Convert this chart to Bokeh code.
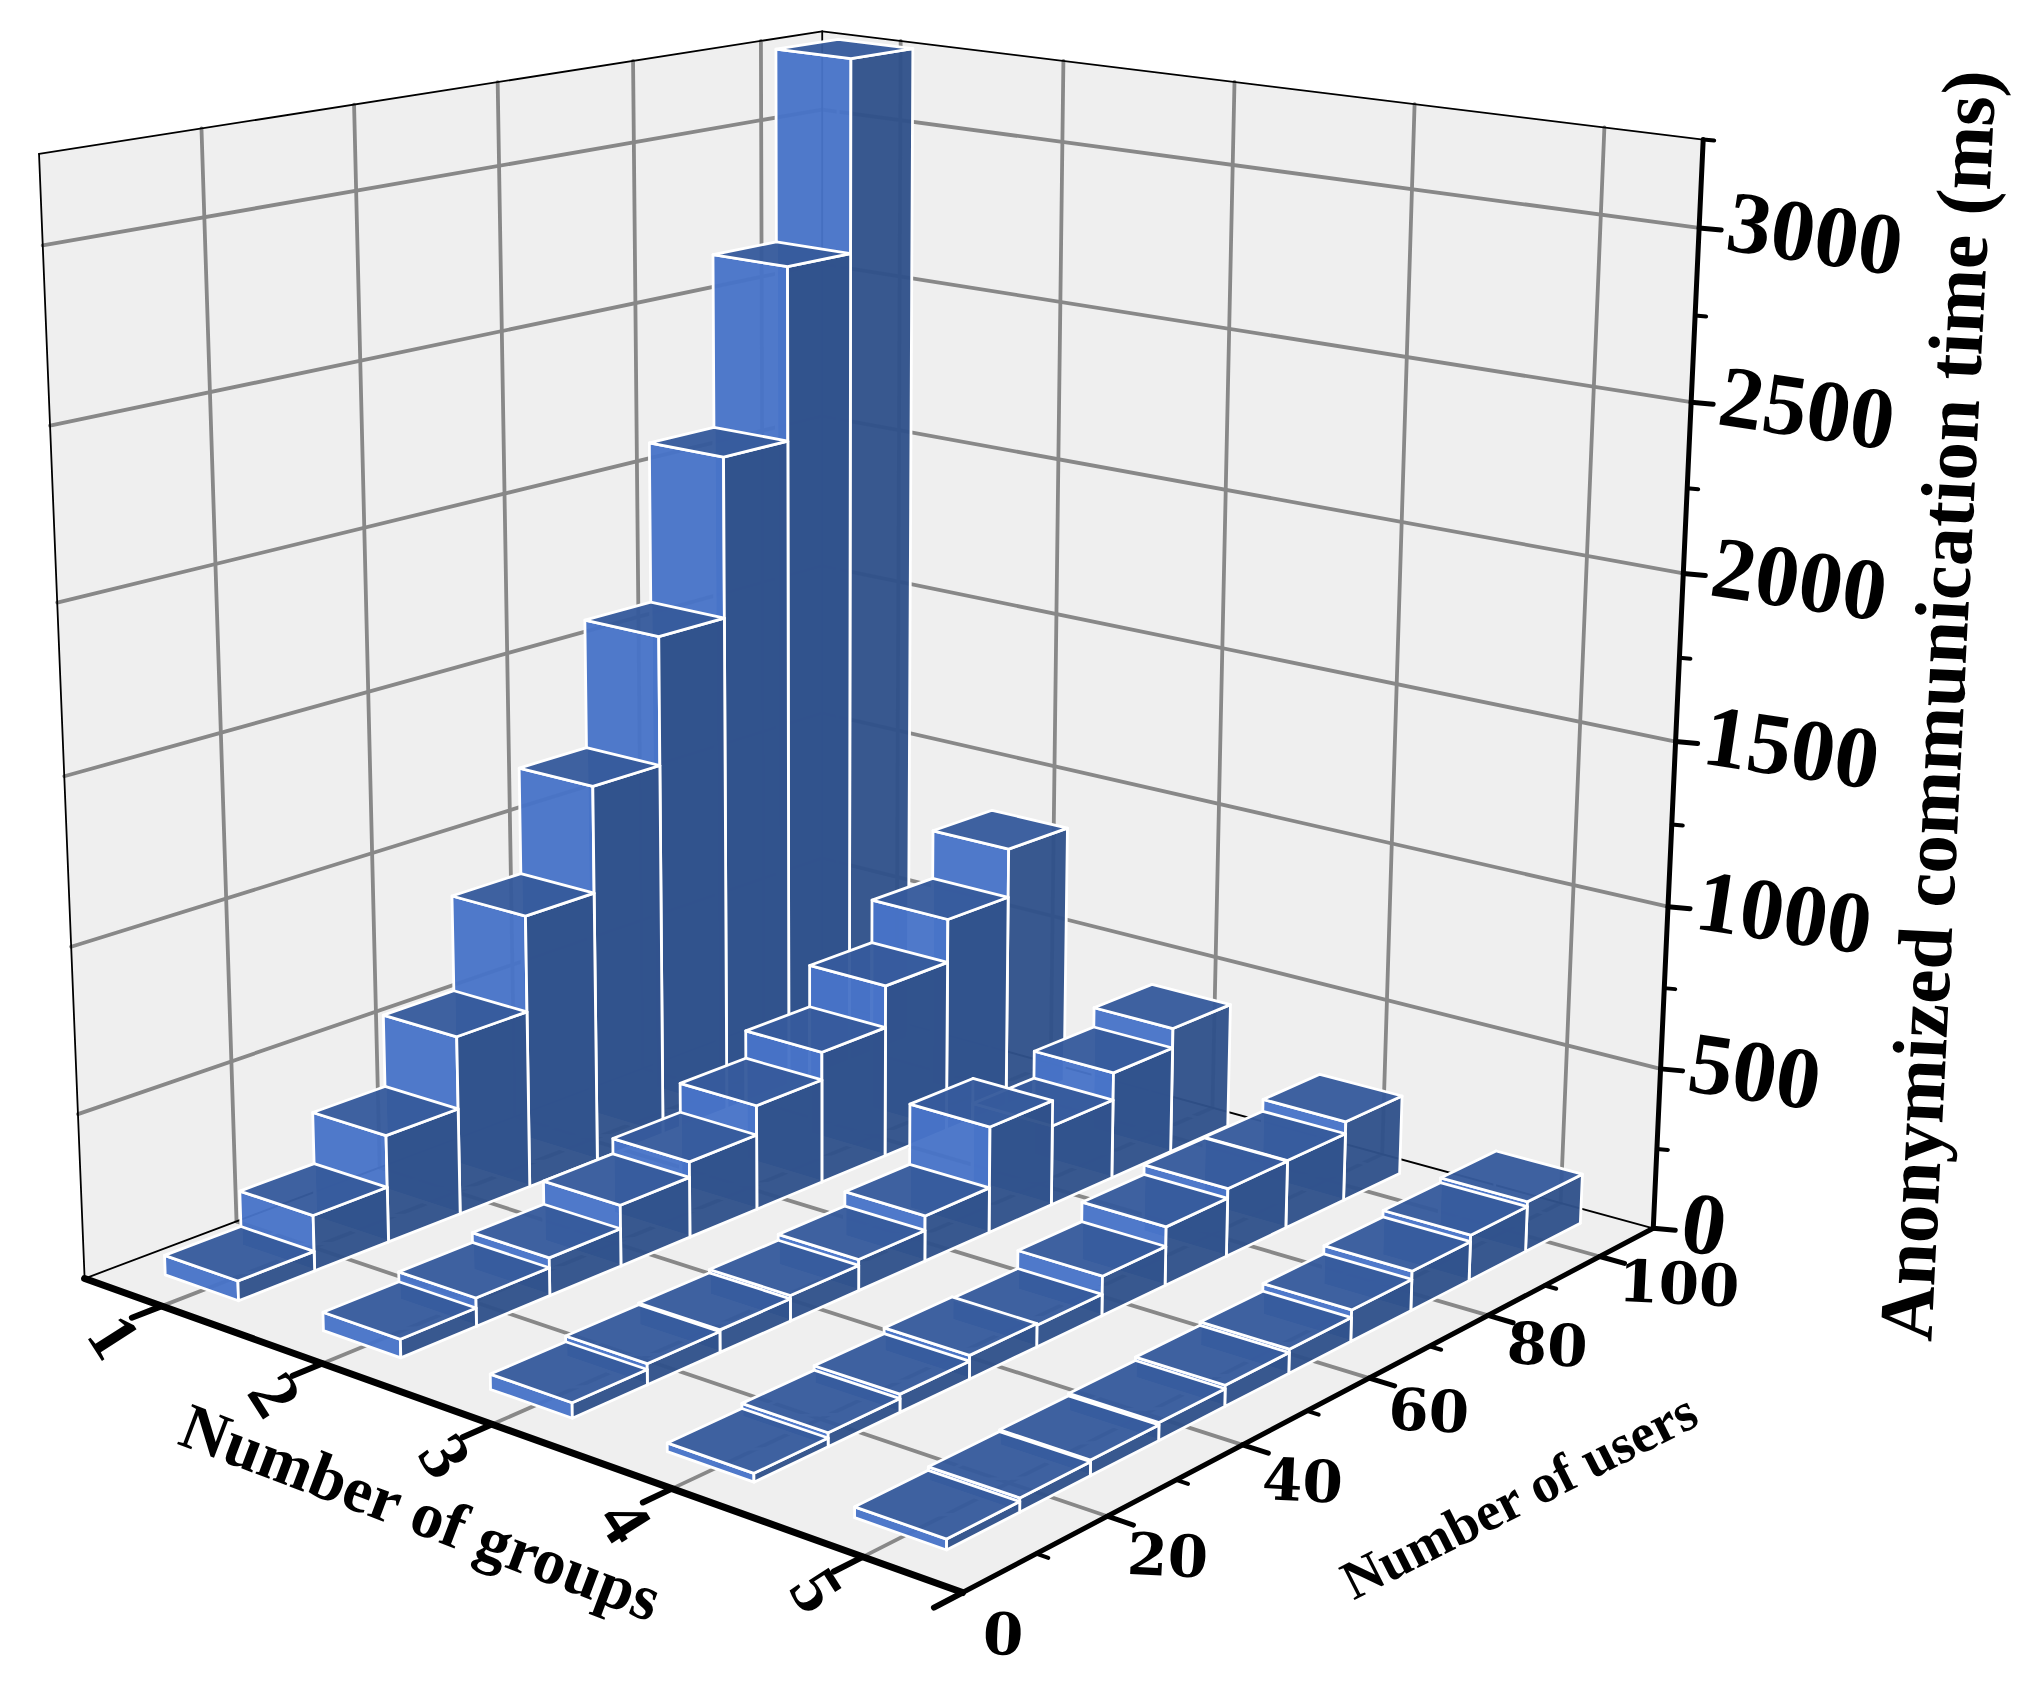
import numpy as np
from bokeh.plotting import figure
from bokeh.models import ColumnDataSource
from bokeh.core.properties import value
from bokeh.embed import file_html
from bokeh.resources import INLINE

groups = [1, 2, 3, 4, 5]
users = [10, 20, 30, 40, 50, 60, 70, 80, 90, 100]
time_g1 = [60, 170, 330, 555, 855, 1190, 1595, 2100, 2645, 3250]
time_g2 = [55, 85, 115, 187, 235, 327, 415, 549, 688, 845]
time_g3 = [45, 62, 67, 77, 95, 140, 330, 250, 337, 400]
time_g4 = [25, 40, 53, 70, 65, 120, 180, 210, 212, 250]
time_g5 = [30, 40, 45, 52, 62, 72, 95, 120, 140, 155]
series = [time_g1, time_g2, time_g3, time_g4, time_g5]
z_ticks = [0, 500, 1000, 1500, 2000, 2500, 3000]
z_minor = [250, 750, 1250, 1750, 2250, 2750, 3250]
user_ticks = [0, 20, 40, 60, 80, 100]
user_minor = [10, 30, 50, 70, 90]
g_min, g_max, n_max, z_max = 0.5, 5.5, 110.0, 3250.0
bar_w, bar_d = 0.47, 10.08

# camera: scene corners to page pixels
calib = [
    ((g_min, 0, 0), (83, 1273)), ((g_max, 0, 0), (963, 1595)),
    ((g_max, n_max, 0), (1652, 1225)), ((g_min, n_max, 0), (822, 1005)),
    ((g_min, 0, z_max), (36, 156)), ((g_min, n_max, z_max), (819, 29)),
    ((g_max, n_max, z_max), (1703, 138)), ((g_max, n_max, 3000), (1698, 228)),
    ((g_max, n_max, 2500), (1690, 403)), ((g_max, n_max, 500), (1661, 1068)),
    ((g_min, 60, z_max), (503, 80)), ((g_min, 20, z_max), (201, 129)),
]
def norm(g, n, z):
    return (g - g_min) / (g_max - g_min), n / n_max, z / z_max
A = []
for w, (px, py) in calib:
    u, v, t = norm(*w)
    px, py = px / 1000, py / 1000
    A.append([u, v, t, 1, 0, 0, 0, 0, -px*u, -px*v, -px*t, -px])
    A.append([0, 0, 0, 0, u, v, t, 1, -py*u, -py*v, -py*t, -py])
P = np.linalg.svd(np.array(A))[2][-1].reshape(3, 4)
def proj(g, n, z):
    q = P @ np.array([*norm(g, n, z), 1.0])
    return q[0] / q[2] * 1000, q[1] / q[2] * 1000
def poly(pts):
    c = [proj(*a) for a in pts]
    return [a[0] for a in c], [a[1] for a in c]

p = figure(width=2016, height=1681, x_range=(0, 2016), y_range=(1681, 0),
           output_backend="svg", toolbar_location=None, min_border=0)
p.axis.visible = False
p.grid.visible = False
p.outline_line_color = None

WALL = "#efefef"
GRID = "#888888"
for pts in ([(g_min, 0, 0), (g_min, n_max, 0), (g_min, n_max, z_max), (g_min, 0, z_max)],
            [(g_min, n_max, 0), (g_max, n_max, 0), (g_max, n_max, z_max), (g_min, n_max, z_max)],
            [(g_min, 0, 0), (g_max, 0, 0), (g_max, n_max, 0), (g_min, n_max, 0)]):
    x, y = poly(pts)
    p.patch(x, y, fill_color=WALL, line_color=None)

def seg(a, b, color=GRID, w=3.8):
    x, y = poly([a, b])
    p.line(x, y, line_color=color, line_width=w, line_cap="round")

for z in z_ticks[1:]:
    seg((g_min, 0, z), (g_min, n_max, z))
    seg((g_min, n_max, z), (g_max, n_max, z))
for n in user_ticks[1:]:
    seg((g_min, n, 0), (g_min, n, z_max))
    seg((g_min, n, 0), (g_max, n, 0))
for g in groups:
    seg((g, n_max, 0), (g, n_max, z_max))
    seg((g, 0, 0), (g, n_max, 0))

for a, b in [((g_min, 0, 0), (g_min, 0, z_max)), ((g_min, 0, z_max), (g_min, n_max, z_max)),
             ((g_min, n_max, z_max), (g_max, n_max, z_max)), ((g_min, n_max, 0), (g_min, n_max, z_max)),
             ((g_min, 0, 0), (g_min, n_max, 0)), ((g_min, n_max, 0), (g_max, n_max, 0))]:
    seg(a, b, "#000000", 1.8)

# bars, painted back to front
xs, ys, fills, fa, la = [], [], [], [], []
def add(pts, fill, falpha, lalpha):
    x, y = poly(pts)
    xs.append(x); ys.append(y); fills.append(fill); fa.append(falpha); la.append(lalpha)
for g, vals in zip(groups, series):
    for n, t in reversed(list(zip(users, vals))):
        gc, nc = g - 0.025, n * 1.008 + 0.62
        g0, g1, n0, n1 = gc - bar_w/2, gc + bar_w/2, nc - bar_d/2, nc + bar_d/2
        add([(g0, n1, 0), (g0, n1, t)], "#000000", 0, 1)
        add([(g0, n0, 0), (g0, n1, 0), (g1, n1, 0)], "#000000", 0, 1)
        add([(g0, n0, 0), (g1, n0, 0), (g1, n0, t), (g0, n0, t)], "#4874c8", 0.96, 1)
        add([(g1, n0, 0), (g1, n1, 0), (g1, n1, t), (g1, n0, t)], "#30518a", 0.96, 1)
        add([(g0, n0, t), (g1, n0, t), (g1, n1, t), (g0, n1, t)], "#365b9c", 0.96, 1)
src = ColumnDataSource(dict(xs=xs, ys=ys, f=fills, fa=fa, la=la))
p.patches("xs", "ys", source=src, fill_color="f", fill_alpha="fa", line_color="#ffffff",
          line_alpha="la", line_width=2.8, line_join="round")

# axes
seg((g_min, 0, 0), (g_max, 0, 0), "#000000", 7)
seg((g_max, 0, 0), (g_max, n_max, 0), "#000000", 5)
seg((g_max, n_max, 0), (g_max, n_max, z_max), "#000000", 5)
for g in groups:
    seg((g, 0, 0), (g, -3.8, 0), "#000000", 6)
seg((g_max, 0, 0), (g_max, -3.8, 0), "#000000", 6)
for n in user_ticks[1:]:
    seg((g_max, n, 0), (g_max + 0.13, n, 0), "#000000", 5)
for n in user_minor:
    seg((g_max, n, 0), (g_max + 0.06, n, 0), "#000000", 4)
for z in z_ticks:
    x, y = proj(g_max, n_max, z)
    p.line([x, x + 22], [y, y + 2], line_color="#000000", line_width=5, line_cap="round")
for z in z_minor:
    x, y = proj(g_max, n_max, z)
    p.line([x, x + 11], [y, y + 1], line_color="#000000", line_width=4, line_cap="round")

def txt(x, y, s, size, angle=0.0, align="center", base="middle", font="Liberation Serif"):
    p.text([x], [y], text=[s], text_font=value(font), text_font_size=f"{size}px",
           text_font_style="bold", text_color="#000000", angle=angle,
           text_align=align, text_baseline=base)

for z in z_ticks:
    x, y = proj(g_max, n_max, z)
    txt(x + 29, y - 7, str(z), 88, -0.15, "left")
for g in groups:
    x, y = proj(g, -3.8, 0)
    txt(x - 18, y + 19, str(g), 70, -1.0)
for n in user_ticks:
    x, y = proj(g_max + 0.13, n, 0)
    txt(x - 6, y + 30 - 0.14 * n, str(n), 58, -0.05, "left", font="DejaVu Serif")
txt(421, 1512, "Number of groups", 65, -0.36)
txt(1519, 1495, "Number of users", 55, 0.47)
txt(1937, 705, "Anonymized communication time (ms)", 77, 1.52)

open("out.html", "w").write(file_html(p, INLINE))
